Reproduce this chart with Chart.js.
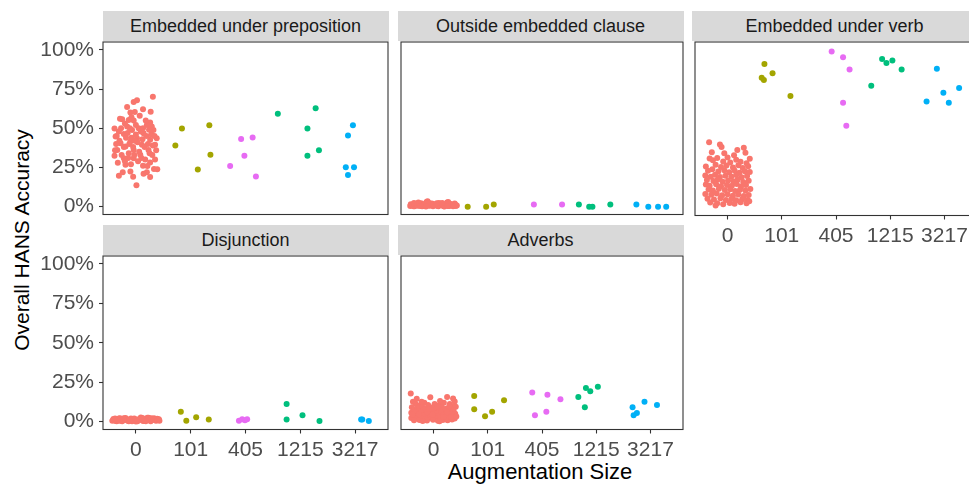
<!DOCTYPE html>
<html>
<head>
<meta charset="utf-8">
<script src="https://cdn.jsdelivr.net/npm/chart.js@4"></script>
<style>
  body { margin: 0; width: 969px; height: 486px; overflow: hidden; background: #fff; position: relative; font-family: "Liberation Sans", Arial, sans-serif; }
  .box { position: absolute; }
  .strip { position: absolute; background: #d9d9d9; color: #1a1a1a; font-size: 18px; text-align: center; line-height: 30px; height: 30px; }
  .title { position: absolute; color: #000; font-size: 21px; white-space: nowrap; }
</style>
</head>
<body>
<div class="title" id="ytitle" style="left:22px; top:240px; transform: translate(-50%,-50%) rotate(-90deg);">Overall HANS Accuracy</div>
<div class="title" style="left:540px; top:472px; transform: translate(-50%,-50%); font-size:22px;">Augmentation Size</div>
<script>
// augmentation sizes (x categories)
const sizes = ["0", "101", "405", "1215", "3217"];
const yTicks = [0, 25, 50, 75, 100];
const panelNames = ["Embedded under preposition", "Outside embedded clause", "Embedded under verb", "Disjunction", "Adverbs"];
const sizeColors = ["#F8766D", "#A3A500", "#E76BF3", "#00BF7D", "#00B0F6"];

// each point: [jitter offset from the category, accuracy %]
const prep_0 = [[.31,70.1],[.02,67.8],[-.04,66.7],[-.16,63.6],[.13,62.1],[.27,60.6],[-.10,60.0],[-.02,60.4],[-.25,55.7],[-.04,54.9],[-.13,55.3],[.26,53.6],[.20,52.1],[.29,51.1],[-.39,49.8],[-.16,51.1],[.05,50.0],[.32,48.9],[-.31,47.9],[-.07,48.9],[.14,46.8],[-.22,46.4],[-.37,44.7],[.38,43.6],[.02,43.6],[.26,42.6],[-.10,41.5],[-.28,40.5],[.11,39.4],[-.19,38.3],[.35,39.4],[-.34,36.2],[-.04,36.2],[.23,36.2],[-.13,34.1],[-.39,32.4],[.08,33.1],[-.22,30.9],[-.04,30.9],[.26,28.2],[-.19,26.7],[.13,26.1],[.39,23.9],[-.10,22.5],[-.31,19.7],[.14,21.0],[.26,18.9],[.01,13.6],
  [-.35,45],[-.30,42],[-.27,50],[-.22,38],[-.18,44],[-.15,47],[-.12,40],[-.08,44],[-.05,38],[0,46],[.03,41],[.06,35],[.09,48],[.12,43],[.16,38],[.19,45],[.22,40],[.25,34],[.28,46],[.31,39],[.34,45],[.37,36],[-.38,36],[-.33,28],[-.26,33],[-.20,29],[-.14,31],[-.09,27],[-.03,33],[.04,29],[.10,31],[.17,30],[.21,26],[.30,33],[.35,30],[-.29,56],[-.20,53],[-.08,57],[.07,58],[.18,55],[-.24,22],[-.05,19],[.20,22],[.33,24],[-.36,40],[.00,52],[.13,50],[-.11,50],[.24,49],[-.02,42]];
const prep_101 = [[-.16,49.8],[-.28,39.0],[.34,51.9],[.36,33.1],[.13,23.7]];
const prep_405 = [[-.08,43.2],[.13,44.1],[-.02,32.4],[-.28,25.9],[.19,19.3]];
const prep_1215 = [[-.41,59.3],[.28,62.7],[.13,49.8],[.34,36.0],[.13,32.4]];
const prep_3217 = [[-.04,51.9],[-.13,45.3],[-.17,25.2],[-.02,25.2],[-.13,20.2]];

const out_0 = [[-.43,0.5],[-.39,1.2],[-.35,0.3],[-.31,1.6],[-.27,0.8],[-.23,2.2],[-.19,0.4],[-.15,1.1],[-.11,3.4],[-.07,0.6],[-.03,2.0],[.01,0.9],[.05,1.4],[.09,0.2],[.13,1.8],[.17,0.7],[.21,1.2],[.25,2.6],[.29,0.5],[.33,1.5],[.37,0.9],[.41,0.4],[-.41,0.9],[-.37,0.2],[-.33,1.9],[-.29,0.6],[-.25,1.3],[-.21,0.3],[-.17,1.7],[-.13,2.9],[-.09,0.8],[-.05,1.4],[-.01,0.2],[.03,1.1],[.07,0.5],[.11,1.6],[.15,0.9],[.19,0.3],[.23,1.4],[.27,3.0],[.31,0.7],[.35,1.1],[.39,2.0],[.43,0.8],[-.42,1.5],[-.28,2.7],[-.18,1.0],[-.08,2.3],[.00,1.6],[.10,2.4],[.20,0.1],[.30,1.9],[.40,1.3],[-.36,2.3],[-.24,0.5],[-.14,0.1],[.06,2.1],[.16,2.3],[.26,0.4],[.36,0.2]];
const out_101 = [[-.37,0.0],[-.03,0.0],[.11,1.3]];
const out_405 = [[-.15,1.3],[.37,1.3]];
const out_1215 = [[-.32,1.3],[-.13,0.0],[-.07,0.0],[.26,1.3]];
const out_3217 = [[-.26,1.3],[-.04,0.0],[.14,0.0],[.29,0.0]];

const verb_0 = [[-.34,41.5],[-.14,40.0],[-.11,38.4],[.30,38.0],[.41,31.0],[-.33,31.2],[-.27,30.1],[-.19,31.5],[-.08,29.3],[.05,28.6],[.16,30.4],[.24,29.0],[.35,28.2],[-.40,26.0],[-.22,27.1],[-.12,25.8],[-.02,26.7],[.10,25.5],[.20,26.8],[.28,25.1],[.38,26.3],[-.36,23.4],[-.28,24.3],[-.17,22.9],[-.06,23.7],[.03,22.4],[.13,23.5],[.22,22.1],[.32,23.0],[.41,22.6],[-.41,20.3],[-.31,19.6],[-.23,20.8],[-.14,19.4],[-.04,20.2],[.07,19.7],[.16,20.6],[.26,19.2],[.36,20.0],[-.38,17.5],[-.26,16.8],[-.18,17.9],[-.09,16.4],[.01,17.2],[.11,16.7],[.19,17.8],[.29,16.2],[.39,17.1],[-.40,14.6],[-.33,13.9],[-.21,14.8],[-.12,13.5],[-.01,14.3],[.08,13.8],[.17,14.9],[.25,13.4],[.34,14.4],[-.35,11.5],[-.27,10.8],[-.16,11.9],[-.05,11.1],[.05,11.7],[.14,10.6],[.23,11.3],[.33,10.9],[.42,11.8],[-.41,8.6],[-.30,8.1],[-.20,8.9],[-.10,7.8],[.00,8.5],[.10,7.6],[.20,8.3],[.30,7.4],[.39,8.0],[-.37,5.6],[-.25,5.1],[-.13,5.9],[-.03,4.8],[.07,5.4],[.16,4.6],[.27,5.3],[.37,4.9],[-.32,3.2],[-.19,2.8],[-.08,2.1],[.04,3.0],[.13,2.5],[.24,3.4],[.35,2.7],[-.22,1.3],[.40,4.0],[-.06,34.5],[.12,33.2],[-.29,35.1],[.33,34.8],[.00,31.8],[.18,36.5]];
const verb_101 = [[-.32,91.1],[-.17,85.2],[-.37,82.4],[-.33,80.9],[.16,70.8]];
const verb_405 = [[-.08,98.9],[.13,95.3],[.25,87.5],[.13,66.5],[.19,51.9]];
const verb_1215 = [[-.35,77.3],[-.15,94.3],[-.07,91.7],[.04,93.2],[.21,87.5]];
const verb_3217 = [[-.33,67.2],[-.14,88.1],[-.02,72.9],[.08,66.5],[.27,75.8]];

const dis_0 = [[-.43,0.6],[-.39,1.1],[-.35,0.3],[-.31,1.9],[-.27,0.7],[-.23,1.4],[-.19,2.3],[-.15,0.5],[-.11,1.2],[-.07,0.2],[-.03,2.0],[.01,0.8],[.05,1.5],[.09,2.6],[.13,0.4],[.17,1.7],[.21,2.4],[.25,0.9],[.29,1.3],[.33,2.1],[.37,0.6],[.41,1.0],[-.41,1.7],[-.37,0.4],[-.33,1.0],[-.29,2.2],[-.25,0.2],[-.21,1.0],[-.17,1.6],[-.13,0.3],[-.09,1.9],[-.05,0.9],[-.01,1.4],[.03,0.3],[.07,1.1],[.11,1.9],[.15,0.6],[.19,1.2],[.23,2.5],[.27,0.3],[.31,1.6],[.35,0.9],[.39,1.8],[.43,0.5],[-.38,2.0],[-.22,2.1],[-.06,1.6],[.00,0.1],[.12,2.3],[.24,1.9],[.34,1.4],[.42,1.5],[-.30,0.5],[-.12,0.9],[.18,0.2],[.28,2.2]];
const dis_101 = [[-.18,6.3],[-.08,0.6],[.10,2.7],[.33,1.3]];
const dis_405 = [[-.12,0.6],[-.06,1.5],[.03,1.5],[-.01,0.9]];
const dis_1215 = [[-.25,11.2],[-.25,1.3],[.04,4.0],[.35,0.4]];
const dis_3217 = [[.11,1.3],[.13,1.3],[.25,0.4]];

const adv_0 = [[-.42,17.9],[-.06,15.4],[.25,15.6],[.39,12.8],[-.38,12.6],[-.33,11.4],[-.25,10.2],[-.17,11.9],[-.10,10.6],[.02,11.1],[.11,10.3],[.19,12.0],[.30,11.2],[.35,9.8],[-.40,9.1],[-.30,8.7],[-.21,9.4],[-.13,8.2],[-.04,9.0],[.06,8.5],[.15,9.3],[.23,8.1],[.32,8.8],[.41,9.5],[-.36,7.3],[-.27,6.8],[-.18,7.6],[-.08,6.5],[.01,7.2],[.10,6.9],[.19,7.5],[.28,6.4],[.37,7.0],[-.41,5.6],[-.32,5.2],[-.23,5.9],[-.14,4.9],[-.05,5.5],[.05,5.1],[.14,5.8],[.22,4.7],[.31,5.4],[.40,5.0],[-.38,3.8],[-.29,3.4],[-.19,4.1],[-.10,3.2],[.00,3.9],[.09,3.5],[.18,4.2],[.27,3.1],[.36,3.7],[-.41,2.3],[-.33,1.9],[-.24,2.6],[-.15,1.6],[-.06,2.4],[.04,1.8],[.13,2.7],[.21,1.5],[.30,2.2],[.39,1.9],[-.36,0.9],[-.26,1.1],[-.12,0.7],[-.01,1.2],[.08,0.6],[.17,1.0],[.26,0.8],[.34,1.3],[-.20,0.4],[.11,0.3],[-.35,6.2],[.25,6.0],[-.02,4.4],[.33,3.0],[-.27,4.6],[.07,9.8],[-.12,6.0],[.18,2.9],[-.39,4.5],[.42,3.3],[-.08,8.0],[.29,9.9],[-.22,12.6],[.12,13.0],[-.31,14.5],[.36,14.6]];
const adv_101 = [[-.25,16.2],[-.25,7.8],[-.05,3.4],[.08,6.3],[.30,13.5]];
const adv_405 = [[-.18,18.5],[.10,17.1],[.34,14.1],[.08,6.3],[-.13,4.0]];
const adv_1215 = [[-.33,15.6],[-.19,21.3],[-.11,19.2],[.03,22.1],[-.21,9.1]];
const adv_3217 = [[-.33,9.1],[-.31,4.0],[-.25,5.5],[-.11,12.6],[.12,10.5]];

const panelData = [
  [prep_0, prep_101, prep_405, prep_1215, prep_3217],
  [out_0, out_101, out_405, out_1215, out_3217],
  [verb_0, verb_101, verb_405, verb_1215, verb_3217],
  [dis_0, dis_101, dis_405, dis_1215, dis_3217],
  [adv_0, adv_101, adv_405, adv_1215, adv_3217]
];

// panel placement (plot area in page pixels)
const plotW = 286, plotH = 173.5;
const layout = [
  {left: 102.5, top: 41.5, yAxis: true,  xAxis: false},
  {left: 397.5, top: 41.5, yAxis: false, xAxis: false},
  {left: 691.5, top: 41.5, yAxis: false, xAxis: true},
  {left: 102.5, top: 255.5, yAxis: true,  xAxis: true},
  {left: 397.5, top: 255.5, yAxis: false, xAxis: true}
];

const borderPlugin = {
  id: "panelBorder",
  afterDraw(chart) {
    const a = chart.chartArea, ctx = chart.ctx;
    ctx.save();
    ctx.strokeStyle = "#333333";
    ctx.lineWidth = 1.1;
    ctx.strokeRect(a.left, a.top, a.right - a.left, a.bottom - a.top);
    ctx.restore();
  }
};

const tickFont = {family: "'Liberation Sans', Arial, sans-serif", size: 21};
const padTop = 12, padBottom = 2, padRight = 2;

panelNames.forEach((name, p) => {
  const L = layout[p];
  const yW = L.yAxis ? 100 : 0;
  const xH = L.xAxis ? 40 : 0;

  const strip = document.createElement("div");
  strip.className = "strip";
  strip.textContent = name;
  strip.style.left = L.left + "px";
  strip.style.top = (L.top - 31) + "px";
  strip.style.width = plotW + "px";
  document.body.appendChild(strip);

  const box = document.createElement("div");
  box.className = "box";
  box.style.left = (L.left - yW) + "px";
  box.style.top = (L.top - padTop) + "px";
  box.style.width = (yW + plotW + padRight) + "px";
  box.style.height = (padTop + plotH + xH + padBottom) + "px";
  const canvas = document.createElement("canvas");
  box.appendChild(canvas);
  document.body.appendChild(box);

  const datasets = panelData[p].map((pts, i) => ({
    label: sizes[i],
    data: pts.map(d => ({x: i + 1 + d[0], y: d[1]})),
    backgroundColor: sizeColors[i],
    borderWidth: 0,
    pointRadius: 3,
    pointHoverRadius: 3
  }));

  new Chart(canvas, {
    type: "scatter",
    data: {datasets: datasets},
    options: {
      responsive: true,
      maintainAspectRatio: false,
      animation: false,
      layout: {padding: {top: padTop, bottom: padBottom, left: 0, right: padRight}},
      plugins: {legend: {display: false}, tooltip: {enabled: false}},
      scales: {
        x: {
          type: "linear",
          min: 0.4,
          max: 5.6,
          afterBuildTicks: s => { s.ticks = sizes.map((_, i) => ({value: i + 1})); },
          afterFit: s => { s.height = xH; s.paddingLeft = 0; s.paddingRight = 0; },
          border: {display: false},
          grid: {display: L.xAxis, drawOnChartArea: false, drawTicks: L.xAxis, tickLength: 4, tickColor: "#333333", tickWidth: 1.1},
          ticks: {display: L.xAxis, autoSkip: false, maxRotation: 0, padding: 4, color: "#4d4d4d", font: tickFont,
                  callback: v => sizes[Math.round(v) - 1]}
        },
        y: {
          min: -5,
          max: 105,
          afterBuildTicks: s => { s.ticks = yTicks.map(v => ({value: v})); },
          afterFit: s => { s.width = yW; s.paddingTop = 0; s.paddingBottom = 0; },
          border: {display: false},
          grid: {display: L.yAxis, drawOnChartArea: false, drawTicks: L.yAxis, tickLength: 4, tickColor: "#333333", tickWidth: 1.1},
          ticks: {display: L.yAxis, padding: 5, color: "#4d4d4d", font: tickFont, callback: v => v + "%"}
        }
      }
    },
    plugins: [borderPlugin]
  });
});
</script>
</body>
</html>
